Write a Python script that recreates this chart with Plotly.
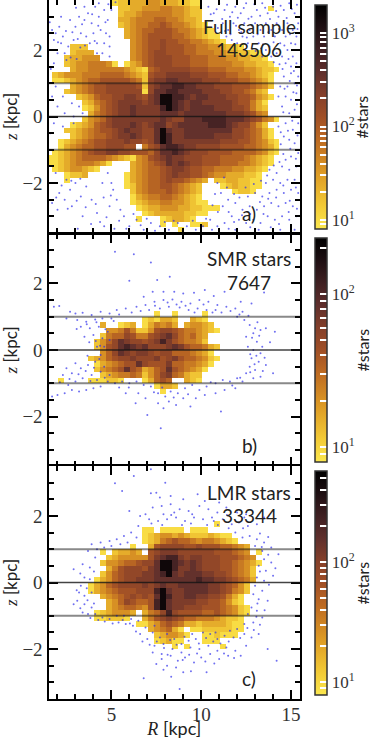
import math
import plotly.graph_objects as go

W = 370
H = 739

# histogram rows, top (z=3.5) to bottom, each row is (first column, colour levels)
ROWS_A = [
    [(11, "122333443332211")],
    [(12, "22334445544322"), (37, "1")],
    [(12, "23345555544322")],
    [(12, "33455566554332")],
    [(12, "234556676554321")],
    [(13, "345667776554321")],
    [(13, "3456777766543211")],
    [(14, "4567787766554321")],
    [(4, "222"), (14, "4567787776655443221")],
    [(4, "2333"), (14, "4567887776655544332211")],
    [(3, "233444"), (14, "45678887776665554433221")],
    [(3, "234455541"), (13, "1346788877766655554433221")],
    [(4, "344555555432"), (16, "16788888777666555443221")],
    [(1, "2344455566665432"), (17, "788999988877766554321")],
    [(1, "1123456677777652"), (17, "899aa9999888777665431")],
    [(4, "3456778888872"), (17, "89aabbaa9998887776542")],
    [(3, "23456778888881"), (17, "8aabbaaaa99988776532")],
    [(5, "234677889987"), (17, "9accbba9aa99988776431")],
    [(6, "23567899998"), (17, "9accba9aa99999877531")],
    [(6, "12467899a99"), (17, "99bcba9aaaa999887532")],
    [(7, "3567899a99"), (17, "99aaa9aaaaaaa9998754")],
    [(6, "24568999999"), (17, "99a988aaabbbbaaa987541")],
    [(4, "1234678999a98"), (17, "9aa89aaaaabbba988642")],
    [(3, "2234567789a998"), (17, "8aca99aaaaaaaa8876531")],
    [(4, "2345667899a98"), (17, "8acb99aaaaa9998876531")],
    [(2, "123456778889887"), (17, "8acb999999998887765421")],
    [(2, "1345667788877"), (16, "5"), (17, "78abba9988887777665431")],
    [(1, "12345678899887776"), (18, "8aaba9888777766665421")],
    [(0, "112345666654321"), (15, "45789a99888777666654321")],
    [(0, "11234555431"), (14, "345678a9a988777666554321")],
    [(1, "12344321"), (14, "34566789987766555443321")],
    [(3, "1223"), (13, "13456678988776544333221")],
    [(3, "1"), (13, "13456678776543"), (28, "22332211")],
    [(13, "1245667765432"), (29, "1232211")],
    [(14, "245666765432"), (31, "1221")],
    [(14, "134556654321")],
    [(14, "1234455443211")],
    [(15, "12334443322111")],
    [(16, "12333332211")],
    [(15, "1"), (19, "123321")],
    [(19, "1"), (21, "1"), (24, "112")],
    [(22, "1")],
]
ROWS_B = [[] for _ in range(14)] + [
    [(18, "1"), (21, "1"), (26, "1")],
    [(16, "121332"), (24, "321")],
    [(9, "3"), (12, "123"), (16, "135453"), (23, "34432")],
    [(10, "445752"), (16, "247887655432"), (28, "1")],
    [(9, "2566875"), (16, "5789a865643")],
    [(8, "2468a988789b9765542")],
    [(8, "2478aba9a8889a9766532")],
    [(9, "468a989987886665431")],
    [(7, "2346788988897897665421")],
    [(8, "1345677a8777966" + "55431")],
    [(8, "24567a76"), (16, "3467a765431")],
    [(9, "2345565"), (16, "2468965322")],
    [(2, "1"), (7, "1"), (8, "11221"), (16, "13676"), (23, "321")],
    [(18, "1332")],
    [(19, "1")],
] + [[] for _ in range(13)]
ROWS_C = [[] for _ in range(10)] + [
    [(28, "1")],
    [(16, "11"), (19, "1111"), (24, "111")],
    [(16, "123443432"), (25, "223211")],
    [(16, "1235676654554321")],
    [(14, "1"), (17, "37888877877766543")],
    [(9, "1"), (11, "23343"), (17, "78999888888777654"), (35, "1")],
    [(10, "2344444"), (17, "79abb9899888777654")],
    [(9, "24456678"), (17, "8accba9a98887765431")],
    [(10, "3578887"), (17, "9accb99a9888776542")],
    [(9, "24678889"), (17, "9abca9aaa998876542")],
    [(8, "134678899"), (17, "9aaaaaaabaa9987653")],
    [(7, "1346788889"), (17, "89a99aaaaa9987642")],
    [(7, "1345677788"), (17, "8bca99aaaa99875" + "42")],
    [(9, "34567878"), (17, "7acb99aa9988753" + "1")],
    [(10, "3468766"), (17, "7bca99998877642" + "1")],
    [(10, "3456654"), (17, "7bca99888777654" + "21")],
    [(8, "1234443"), (16, "3568b8777766765" + "421")],
    [(8, "112221"), (16, "357898766555432" + "21")],
    [(15, "113467653323333" + "211")],
    [(17, "345631"), (24, "112222211")],
    [(18, "234431"), (26, "112111")],
    [(18, "123"), (21, "11"), (26, "111")],
    [(21, "1"), (23, "1"), (29, "1")],
] + [[] for _ in range(9)]

# star count behind each colour level, per panel
LEVELS = "123456789abc"
COUNTS_A = [10, 16, 24, 38, 55, 83, 119, 167, 245, 360, 590, 1500]
COUNTS_B = [9.1, 12, 15.7, 20.5, 26, 33, 42, 51, 64, 81, 110, 195]
COUNTS_C = [9.3, 13, 18, 26, 35, 47, 64, 83, 112, 151, 223, 463]

# single stars outside the binned area, (R, z)
DOTS_A = [
    (1.7,2.6),(1.9,2.5),(2.1,2.7),(2.3,2.4),(1.8,2.3),(2.2,2.2),(2.6,2.1),(2.9,2.3),(1.6,2.0),(2.0,1.9),
    (2.4,1.9),(3.0,2.7),(3.3,2.5),(3.5,2.9),(3.7,3.1),(3.9,2.8),(4.1,3.3),(4.3,3.0),(4.6,3.2),(4.8,2.9),
    (3.6,2.4),(4.0,2.5),(4.4,2.6),(4.7,2.5),(3.8,2.2),(4.2,2.2),(4.6,2.2),(4.9,2.1),(4.5,1.9),(4.9,1.8),
    (4.3,3.4),(3.2,3.0),(2.7,2.9),(2.2,3.0),(3.5,3.3),(5.0,3.2),(4.9,2.4),(4.2,1.9),(2.5,1.7),(1.8,1.6),
    (10.4,3.3),(10.7,3.1),(11.0,3.4),(11.3,3.2),(11.6,3.0),(11.9,3.3),(12.2,3.1),(12.5,3.4),(12.8,3.0),(13.1,3.2),
    (13.4,3.4),(13.7,3.1),(14.0,3.3),(14.3,3.0),(14.6,3.2),(14.9,3.4),(15.2,3.1),(15.4,2.8),(15.1,2.6),(14.8,2.8),
    (14.5,2.6),(14.2,2.8),(13.9,2.6),(13.6,2.8),(13.3,2.6),(13.0,2.8),(12.7,2.6),(12.4,2.8),(12.1,2.6),(11.8,2.8),
    (11.5,2.6),(11.2,2.8),(11.4,2.4),(11.7,2.3),(12.0,2.2),(12.3,2.4),(12.6,2.2),(12.9,2.4),(13.2,2.2),(13.5,2.4),
    (13.8,2.1),(14.1,2.4),(14.4,2.2),(14.7,2.4),(15.0,2.2),(15.3,2.4),(15.4,2.0),(15.1,1.8),(14.8,2.0),(14.5,1.8),
    (14.2,1.9),(13.9,1.8),(13.6,2.0),(13.4,1.8),(15.3,1.6),(15.0,1.5),(14.7,1.6),(15.4,1.2),(15.2,1.0),(15.0,1.3),
    (14.8,0.9),(14.6,1.2),(15.3,0.7),(15.0,0.5),(14.7,0.6),(14.4,0.9),(15.2,0.2),(14.9,0.1),(14.5,0.3),(14.3,0.6),
    (15.4,-0.2),(15.1,-0.4),(14.7,-0.2),(14.3,-0.3),(15.2,-0.8),(14.9,-0.7),(14.6,-0.6),(15.4,-1.1),(15.0,-1.2),(14.7,-1.3),
    (15.3,-1.5),(14.9,-1.6),(14.5,-1.5),(14.2,-1.7),(13.8,-1.6),(15.2,-1.9),(14.8,-1.9),(14.4,-2.0),(14.0,-1.9),(13.6,-2.0),
    (15.4,-2.3),(15.0,-2.2),(14.6,-2.3),(14.2,-2.2),(13.8,-2.3),(13.4,-2.4),(13.0,-2.3),(12.6,-2.4),(15.1,-2.7),(14.7,-2.6),
    (14.3,-2.7),(13.9,-2.6),(13.5,-2.7),(13.1,-2.8),(12.7,-2.7),(12.3,-2.8),(11.9,-2.6),(11.5,-2.5),(11.1,-2.3),(10.9,-2.0),
    (11.2,-2.7),(15.3,-3.0),(14.9,-3.1),(14.5,-3.0),(14.1,-3.1),(13.7,-3.0),(13.3,-3.2),(12.9,-3.1),(12.5,-3.2),(12.1,-3.1),
    (11.7,-3.0),(11.3,-3.2),(10.9,-3.3),(10.5,-3.1),(10.1,-3.3),(15.2,-3.4),(14.4,-3.4),(13.2,-3.4),(11.9,-3.4),(10.6,-3.4),
    (9.7,-3.4),(9.2,-3.3),(8.7,-3.2),(8.2,-3.4),(7.7,-3.3),(7.2,-3.2),(6.8,-3.4),(6.4,-3.1),(6.0,-3.3),(5.7,-3.0),
    (5.5,-2.8),(5.3,-2.5),(5.1,-2.2),(4.9,-2.7),(4.6,-3.3),(4.2,-2.9),(3.9,-2.5),(3.6,-2.1),(3.3,-2.4),(3.0,-2.0),
    (2.7,-2.2),(2.4,-2.5),(2.1,-2.3),(1.8,-2.0),(1.7,-2.6),(2.0,-2.8),(2.8,-2.7),(3.4,-3.0),(1.9,-1.7),(2.5,-1.9),
    (4.8,-1.7),(4.5,-2.0),(5.0,-2.0),(1.7,0.6),(2.0,0.3),(2.4,0.1),(2.9,0.0),(3.4,0.1),(1.8,-0.2),(2.3,-0.3),(2.9,-0.2),
    (1.6,-0.5),(1.9,0.9),(2.3,0.6),(2.8,0.4),(3.2,0.3),
    (10.53,3.07),(10.86,3.22),(11.17,2.93),(11.44,3.36),(11.73,3.13),(12.04,2.97),(12.37,3.26),(12.63,2.94),(12.96,3.37),(13.28,3.03),
    (13.56,3.27),(13.83,2.93),(14.17,3.17),(14.42,3.33),(14.76,2.96),(15.04,3.23),(15.33,3.36),(10.93,2.66),(11.33,2.57),(11.63,2.47),
    (11.94,2.73),(12.23,2.53),(12.54,2.37),(12.83,2.73),(13.14,2.47),(13.44,2.17),(13.73,2.53),(14.03,2.23),(14.33,2.63),(14.63,2.13),
    (14.94,2.47),(15.24,2.17),(15.36,2.63),(13.03,1.97),(13.33,2.04),(14.04,1.63),(14.36,1.57),(14.86,1.73),(15.16,1.37),(14.53,1.43),
    (14.93,1.07),(15.33,0.93),(14.64,0.83),(15.13,0.73),(14.57,0.13),(15.33,0.37),(15.07,-0.13),(14.43,-0.47),(14.83,-0.43),(15.36,-0.57),
    (14.43,-0.83),(14.96,-0.97),(15.27,-1.27),(14.57,-1.13),(14.36,-1.37),(14.04,-1.47),(13.67,-1.77),(13.33,-1.93),(12.93,-2.03),(12.47,-2.13),
    (12.13,-2.43),(11.83,-2.33),(11.43,-2.13),(11.27,-1.83),(10.77,-2.33),(10.63,-2.67),(10.93,-2.87),(11.53,-2.87),(11.83,-3.17),(12.27,-2.97),
    (12.73,-2.93),(13.27,-2.57),(13.73,-2.47),(14.17,-2.43),(14.57,-2.07),(14.93,-2.53),(15.27,-2.13),(15.33,-2.77),(14.87,-2.87),(14.33,-3.23),
    (13.87,-3.33),(13.47,-2.93),(12.73,-3.33),(11.53,-3.37),(10.27,-3.07),(9.53,-3.13),(8.97,-3.43),(8.47,-3.13),(7.97,-3.17),(7.43,-3.43),
    (6.97,-3.07),(6.63,-3.27),(6.23,-2.93),(5.83,-3.37),(5.43,-3.13),(5.17,-3.37),(4.73,-3.03),(4.37,-3.17),(3.87,-3.23),(3.13,-3.37),
    (4.13,-2.63),(4.57,-2.43),(3.57,-2.73),(3.07,-2.53),(2.57,-2.77),(2.23,-2.07),(1.93,-2.43),(2.77,-1.93),(3.27,-1.87),(4.97,-2.37),
    (5.23,3.43),(4.83,3.37),(3.93,3.07),(3.37,2.77),(3.13,2.33),(2.83,2.53),(2.47,2.57),(2.03,2.23),(4.27,2.73),(4.67,2.83),
    (4.07,2.27),(3.53,2.13),(3.27,2.07),(2.73,1.77),(3.07,1.73),(1.63,1.43),(1.57,2.83),(3.03,3.27),
]
DOTS_B = [
    (5.2,2.95),(6.25,2.88),(7.2,2.63),(6.0,2.08),(7.55,2.1),(8.25,2.2),(13.5,1.73),(7.75,-2.35),(11.1,-1.85),(7.0,-1.95),
    (6.35,-1.6),(9.4,-1.7),(1.8,1.3),(2.1,1.32),(2.7,1.15),(3.0,1.1),(3.4,1.12),(3.9,1.05),(4.4,1.15),(4.9,1.1),
    (5.3,1.2),(5.8,1.25),(6.4,1.3),(6.9,1.35),(7.4,1.45),(7.9,1.5),(8.4,1.52),(8.9,1.45),(9.4,1.4),(9.9,1.5),
    (10.4,1.45),(10.9,1.35),(11.4,1.3),(11.9,1.25),(12.3,1.15),(12.8,1.4),(7.1,1.2),(7.7,1.25),(8.2,1.3),(8.8,1.28),
    (9.3,1.2),(9.8,1.25),(10.3,1.2),(10.8,1.2),(2.5,0.95),(3.1,0.9),(3.6,0.85),(4.1,0.92),(4.5,0.95),(5.0,0.95),
    (3.3,0.7),(3.8,0.65),(4.3,0.7),(4.8,0.55),(3.5,0.4),(4.0,0.45),(4.5,0.35),(4.9,0.3),(4.2,0.1),(4.6,0.1),
    (12.0,1.0),(12.4,0.9),(12.7,0.75),(13.0,0.65),(13.3,0.6),(13.6,0.65),(12.9,0.5),(12.5,0.4),(13.1,0.25),(12.6,0.1),
    (13.4,0.1),(14.1,0.55),(12.9,0.0),(13.3,-0.1),(12.8,-0.25),(13.2,-0.35),(12.7,-0.5),(13.0,-0.6),(13.6,-0.45),(14.0,-0.7),
    (12.5,-0.7),(12.9,-0.85),(13.3,-0.8),(12.3,-0.95),(12.0,-0.85),(11.6,-0.95),(11.2,-0.9),(10.8,-1.0),(10.3,-1.1),(9.9,-1.2),
    (9.5,-1.05),(9.1,-1.15),(8.7,-1.3),(8.3,-1.25),(8.0,-1.4),(7.6,-1.3),(7.2,-1.1),(6.8,-1.05),(6.4,-0.95),(6.0,-1.0),
    (5.6,-0.95),(5.2,-1.0),(4.8,-0.95),(4.4,-1.1),(4.0,-1.15),(3.6,-1.2),(3.2,-1.25),(2.8,-1.2),(2.4,-1.3),(2.0,-1.35),
    (1.7,-1.4),(2.6,-1.05),(3.0,-0.95),(2.3,-0.75),(2.8,-0.7),(3.3,-0.55),(3.7,-0.45),(4.1,-0.35),(4.4,-0.15),(3.9,-0.75),
    (3.4,-0.85),(4.4,-0.65),(4.9,-0.75),(4.6,-0.5),(4.2,-0.9),(3.0,-0.4),(2.5,-0.55),(7.6,-1.6),(7.9,-1.75),(8.2,-1.55),
    (8.6,-1.65),(9.0,-1.45),(9.7,-1.45),(10.2,-1.35),(10.8,-1.3),(11.3,-1.2),(11.9,-1.15),(6.9,-1.45),(6.5,-1.3),(5.8,-1.3),
    (7.9,1.75),(8.5,1.75),(9.0,1.7),(9.6,1.72),(6.8,1.6),(7.3,1.75),(10.2,1.8),(10.7,1.62),(11.3,1.75),(12.2,1.45),
    (3.07,0.63),(3.63,0.77),(4.17,0.83),(4.67,0.62),(5.13,0.87),(5.43,1.07),(6.13,1.13),(6.63,1.17),(7.43,1.33),(8.13,1.43),
    (8.63,1.37),(9.13,1.33),(9.63,1.13),(10.13,1.37),(10.63,1.13),(11.13,1.13),(11.63,1.17),(12.13,1.07),(12.63,1.03),(13.13,0.83),
    (12.83,0.37),(13.23,0.43),(13.83,0.23),(12.73,-0.13),(13.07,-0.17),(13.53,-0.23),(12.97,-0.43),(12.73,-0.67),(13.43,-0.63),(12.17,-0.83),
    (11.73,-1.07),(10.53,-0.97),(9.27,-1.33),(8.47,-1.43),(7.83,-1.13),(7.37,-1.27),(5.97,-1.13),(5.43,-1.13),(4.63,-0.83),(3.83,-0.93),
    (3.17,-0.73),(2.67,-0.87),(2.13,-0.97),(3.57,-0.63),(4.03,-0.53),(4.33,-0.27),(3.67,-0.17),(4.37,0.13),(4.13,0.27),(3.77,0.23),
]
DOTS_C = [
    (5.2,2.98),(6.25,3.2),(7.2,3.4),(8.0,3.0),(5.6,2.75),(7.2,2.68),(7.5,2.7),(6.8,-2.88),(7.9,-2.62),(8.8,-3.2),
    (14.2,-2.35),(13.7,-2.0),(6.0,2.15),(6.9,2.05),(7.3,2.25),(7.8,2.3),(8.3,2.35),(8.8,2.2),(9.3,2.15),(9.9,2.3),
    (10.4,2.2),(10.9,2.1),(11.4,2.25),(12.0,2.1),(12.5,2.05),(7.1,1.9),(7.6,1.85),(8.1,1.9),(8.6,1.95),(9.1,1.85),
    (9.6,1.95),(10.1,1.9),(10.6,1.95),(11.2,1.9),(11.7,1.75),(12.1,1.8),(12.6,1.7),(13.1,1.75),(13.5,1.95),(6.5,1.7),
    (6.1,1.5),(5.7,1.4),(5.3,1.3),(4.9,1.25),(4.4,1.2),(6.4,1.35),(5.9,1.2),(11.9,1.5),(12.3,1.35),(12.7,1.4),
    (13.1,1.3),(13.5,1.2),(13.0,1.1),(13.4,0.95),(13.9,1.05),(14.3,0.85),(13.5,0.7),(13.9,0.6),(13.2,0.5),(13.6,0.35),
    (14.0,0.2),(13.1,0.15),(13.5,0.05),(13.0,-0.1),(13.4,-0.25),(12.9,-0.35),(13.2,-0.5),(13.7,-0.55),(12.8,-0.75),(13.1,-0.85),
    (12.6,-0.95),(13.4,-1.05),(12.9,-1.2),(12.4,-1.25),(12.0,-1.4),(12.4,-1.55),(12.8,-1.65),(13.2,-1.55),(11.8,-1.65),(11.3,-1.6),
    (10.9,-1.7),(10.5,-1.55),(10.1,-1.5),(9.7,-1.7),(9.3,-1.75),(8.9,-1.85),(8.5,-1.7),(8.1,-1.55),(7.7,-1.65),(7.3,-1.5),
    (6.9,-1.35),(6.5,-1.15),(6.1,-1.1),(5.7,-1.0),(5.3,-1.0),(4.9,-1.1),(4.5,-1.05),(4.1,-0.95),(3.7,-0.95),(3.4,-0.9),
    (3.9,-0.75),(3.5,-0.65),(3.1,-0.55),(3.5,-0.4),(3.9,-0.3),(3.2,-0.3),(2.9,-0.65),(3.3,-0.1),(3.8,0.1),(3.5,0.15),
    (2.9,0.4),(3.4,0.55),(3.8,0.45),(4.1,0.75),(3.7,0.95),(4.2,1.0),(4.6,1.05),(3.9,1.15),(5.0,1.1),(5.5,1.15),
    (7.4,-1.9),(7.9,-1.85),(8.4,-2.0),(8.9,-2.1),(9.4,-1.95),(9.9,-2.0),(10.4,-1.9),(10.9,-2.05),(11.4,-1.95),(11.9,-2.05),
    (12.5,-1.9),(7.0,-1.7),(7.3,-2.1),(7.8,-2.15),(8.3,-2.2),(8.7,-2.35),(9.1,-2.25),(9.6,-2.4),(10.0,-2.25),(10.5,-2.15),
    (11.0,-2.3),(11.5,-2.2),(12.2,-2.2),(6.6,-1.55),(6.2,-1.3),(5.8,-1.25),(5.4,-1.2),(7.5,-2.45),(8.1,-2.5),(9.0,-2.7),
    (7.8,-2.3),(8.6,-2.55),(10.3,-2.7),(7.4,-1.3),(9.5,-1.55),(10.8,-1.5),(11.6,-1.45),(7.9,2.05),(8.5,2.1),(9.5,2.05),
    (10.2,2.45),(9.0,2.5),(8.3,2.6),(11.0,2.4),(9.8,2.65),(11.7,2.5),(7.7,2.55),(6.6,2.0),(10.7,1.85),(12.4,1.95),
    (7.23,1.77),(7.83,1.73),(8.33,2.03),(8.93,1.73),(9.43,1.77),(10.33,1.73),(10.93,1.73),(11.53,1.63),(11.43,2.03),(12.33,1.63),
    (13.27,1.47),(13.73,1.37),(13.37,1.07),(13.73,0.83),(14.13,0.43),(13.27,0.33),(13.77,-0.07),(13.13,-0.63),(13.53,-0.83),(13.07,-1.03),
    (13.27,-1.27),(12.57,-1.37),(12.17,-1.67),(12.93,-1.43),(11.53,-1.77),(11.07,-1.83),(10.67,-1.77),(10.27,-1.67),(9.87,-1.83),(9.07,-1.63),
    (8.63,-1.87),(8.27,-1.73),(7.93,-1.97),(7.53,-1.77),(7.13,-1.87),(6.73,-1.77),(6.37,-1.47),(6.03,-1.23),(5.63,-1.13),(5.07,-1.23),
    (4.63,-1.17),(4.27,-1.13),(3.83,-1.07),(3.27,-0.77),(3.67,-0.53),(4.03,-0.63),(3.07,-0.23),(3.63,-0.17),(4.03,0.33),(3.27,0.27),
    (8.13,-2.17),(8.97,-2.33),(9.33,-2.17),(9.77,-2.13),(10.23,-2.37),(10.73,-2.43),(11.27,-2.13),(11.83,-2.27),(9.43,-2.67),(8.33,-2.83),
]

R_CENTERS = [1.55 + c / 3 for c in range(43)]
Z_CENTERS = [3.5 - (r + 0.5) / 6 for r in range(42)]
R_RANGE = [1.5, 15.5]
Z_RANGE = [-3.5, 3.5]
GUIDE_Z = [-1, 0, 1]
GUIDE_ALPHA = [0.5, 0.8, 0.5]
GUIDE_WIDTH = [2, 1.6, 2]

COLOURS = [
    [0.0, "#fbe74e"], [0.1, "#f3cb36"], [0.25, "#dd9a24"], [0.4, "#bd6a22"], [0.5, "#a04f26"],
    [0.6, "#843f2a"], [0.7, "#5f2f2c"], [0.8, "#3f2022"], [0.9, "#1e0f12"], [1.0, "#000000"],
]

TICKS_A = [9, 10, 20, 30, 40, 50, 60, 70, 80, 90, 100, 200, 300, 400, 500, 600, 700, 800, 900, 1000]
TICKS_B = [9, 10, 20, 30, 40, 50, 60, 70, 80, 90, 100, 200]
TICKS_C = [9, 10, 20, 30, 40, 50, 60, 70, 80, 90, 100, 200, 300, 400, 500]

SERIF = "Liberation Serif"
SANS = "Lato"
INK = "#222222"


def grid_from_rows(rows, counts):
    grid = []
    for row in rows:
        cells = [None] * len(R_CENTERS)
        for start, levels in row:
            for i, ch in enumerate(levels):
                cells[start + i] = math.log10(counts[LEVELS.index(ch)])
        grid.append(cells)
    return grid[::-1]


def tick_text(v):
    exp = math.log10(v)
    if abs(exp - round(exp)) < 1e-9:
        return f"10<sup>{round(exp)}</sup>"
    return ""


panels = [
    dict(rows=ROWS_A, counts=COUNTS_A, dots=DOTS_A, vmin=8, vmax=2000, ticks=TICKS_A, top=0, bar=(5, 229),
         text=["Full sample", "143506", "a)"], text_y=[26, 49, 213]),
    dict(rows=ROWS_B, counts=COUNTS_B, dots=DOTS_B, vmin=8, vmax=231, ticks=TICKS_B, top=233.5, bar=(238, 462),
         text=["SMR stars", "7647", "b)"], text_y=[258, 282, 445]),
    dict(rows=ROWS_C, counts=COUNTS_C, dots=DOTS_C, vmin=7.8, vmax=574, ticks=TICKS_C, top=466, bar=(471, 695),
         text=["LMR stars", "33344", "c)"], text_y=[492, 515, 678]),
]

fig = go.Figure()
shapes = []
annotations = []
layout = {}

for i, p in enumerate(panels):
    suffix = "" if i == 0 else str(i + 1)
    xname = "x" + suffix
    yname = "y" + suffix

    fig.add_trace(go.Heatmap(
        x=R_CENTERS,
        y=Z_CENTERS[::-1],
        z=grid_from_rows(p["rows"], p["counts"]),
        xaxis=xname,
        yaxis=yname,
        colorscale=COLOURS,
        zmin=math.log10(p["vmin"]),
        zmax=math.log10(p["vmax"]),
        hoverongaps=False,
        colorbar=dict(
            x=315 / W, xanchor="left", xpad=0,
            y=1 - p["bar"][1] / H, yanchor="bottom", ypad=0,
            len=(p["bar"][1] - p["bar"][0]) / H, lenmode="fraction",
            thickness=12, thicknessmode="pixels",
            outlinecolor="#333333", outlinewidth=1.5,
            tickmode="array",
            tickvals=[math.log10(v) for v in p["ticks"]],
            ticktext=[tick_text(v) for v in p["ticks"]],
            ticks="inside", ticklen=7, tickwidth=2, tickcolor="white",
            tickfont=dict(family=SERIF, size=17, color="#333333"),
        ),
    ))
    fig.add_trace(go.Scatter(
        x=[d[0] for d in p["dots"]],
        y=[d[1] for d in p["dots"]],
        xaxis=xname,
        yaxis=yname,
        mode="markers",
        marker=dict(size=2, color="rgba(50,50,235,0.7)"),
        showlegend=False,
    ))

    for gz, alpha, lw in zip(GUIDE_Z, GUIDE_ALPHA, GUIDE_WIDTH):
        shapes.append(dict(type="line", xref=xname, yref=yname, x0=R_RANGE[0], x1=R_RANGE[1], y0=gz, y1=gz,
                           line=dict(color=f"rgba(20,20,20,{alpha})", width=lw)))

    layout["xaxis" + suffix] = dict(
        domain=[48.5 / W, 300 / W], range=R_RANGE, anchor=yname,
        tick0=5, dtick=5, ticks="inside", ticklen=9, tickwidth=2, tickcolor="black",
        minor=dict(tick0=0, dtick=1, ticks="inside", ticklen=5, tickwidth=2, tickcolor="black"),
        mirror="allticks", showline=True, linewidth=2.2, linecolor="black",
        showgrid=False, zeroline=False, showticklabels=(i == 2),
        tickfont=dict(family=SERIF, size=19, color="#333333"),
    )
    layout["yaxis" + suffix] = dict(
        domain=[1 - (p["top"] + 233) / H, 1 - p["top"] / H], range=Z_RANGE, anchor=xname,
        tick0=0, dtick=2, ticks="inside", ticklen=9, tickwidth=2, tickcolor="black",
        minor=dict(tick0=0, dtick=0.5, ticks="inside", ticklen=5, tickwidth=2, tickcolor="black"),
        mirror="allticks", showline=True, linewidth=2.2, linecolor="black",
        showgrid=False, zeroline=False,
        tickfont=dict(family=SERIF, size=19, color="#333333"),
        title=dict(
            text=f'<span style="font-family:{SERIF};font-style:italic">z</span> [kpc]',
            font=dict(family=SANS, size=17, color=INK), standoff=6,
        ),
    )

    for label, ypx in zip(p["text"], p["text_y"]):
        annotations.append(dict(
            xref="paper", yref="paper", x=249 / W, y=1 - ypx / H, text=label, showarrow=False,
            xanchor="center", yanchor="middle", font=dict(family=SANS, size=19, color=INK),
        ))
    annotations.append(dict(
        xref="paper", yref="paper", x=361.5 / W, y=1 - (p["bar"][0] + p["bar"][1]) / 2 / H, text="#stars",
        textangle=-90, showarrow=False, xanchor="center", yanchor="middle",
        font=dict(family=SANS, size=16, color=INK),
    ))

layout["xaxis3"]["ticklabelstandoff"] = -3
layout["xaxis3"]["title"] = dict(
    text=f'<span style="font-family:{SERIF};font-style:italic">R</span> [kpc]',
    font=dict(family=SANS, size=18, color=INK), standoff=3,
)

fig.update_layout(
    width=W,
    height=H,
    margin=dict(l=0, r=0, t=0, b=0, autoexpand=False),
    paper_bgcolor="white",
    plot_bgcolor="white",
    showlegend=False,
    shapes=shapes,
    annotations=annotations,
    **layout,
)

# browser default body margin would push the fixed-size figure off the window
fig.write_html("out.html", config={"displayModeBar": False}, post_script="document.body.style.margin='0';")
